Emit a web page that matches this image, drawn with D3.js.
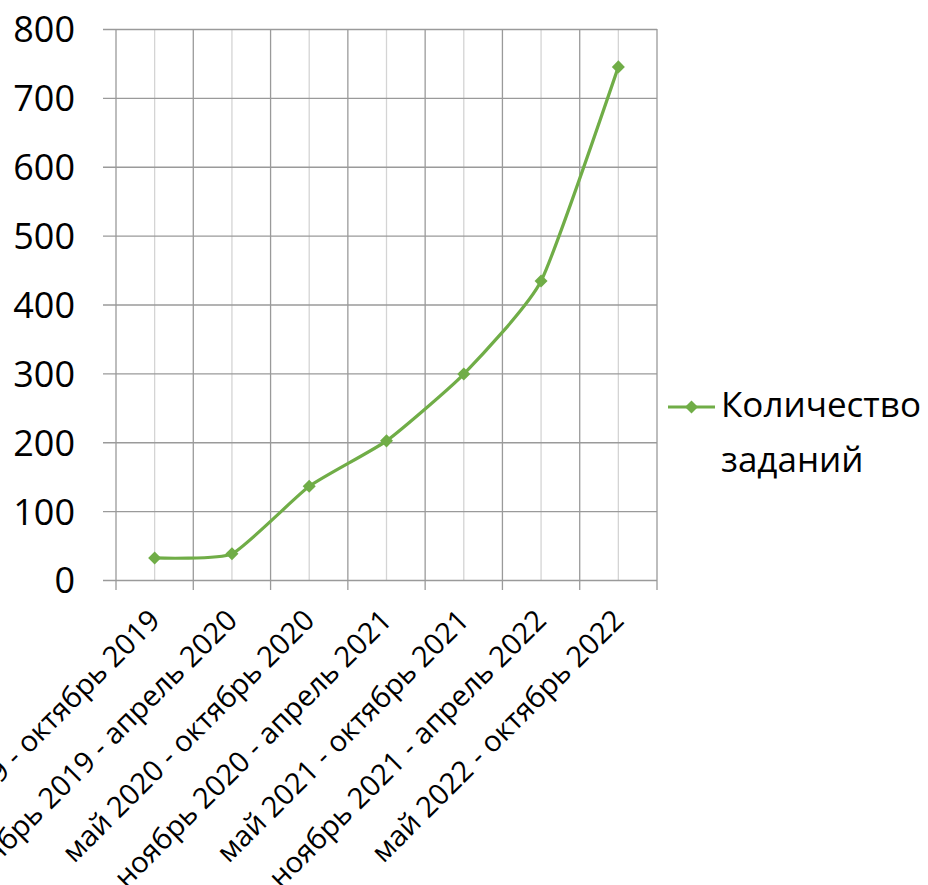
<!DOCTYPE html>
<html>
<head>
<meta charset="utf-8">
<script src="https://cdn.jsdelivr.net/npm/d3@7"></script>
<style>
  body { margin: 0; background: #fff; }
  svg text { font-family: "Open Sans", "Noto Sans", sans-serif; fill: #000; }
</style>
</head>
<body>
<div id="chart"></div>
<script>
// data
var periods = [
  "май 2019 - октябрь 2019",
  "ноябрь 2019 - апрель 2020",
  "май 2020 - октябрь 2020",
  "ноябрь 2020 - апрель 2021",
  "май 2021 - октябрь 2021",
  "ноябрь 2021 - апрель 2022",
  "май 2022 - октябрь 2022"
];
var taskCounts = [32, 38, 136, 202, 299, 434, 745];
var yTicks = [0, 100, 200, 300, 400, 500, 600, 700, 800];
var seriesName = ["Количество", "заданий"];

var width = 928, height = 885;
var margin = { top: 29, right: 271, bottom: 305, left: 116 };
var green = "#70AD47";

var svg = d3.select("#chart").append("svg")
  .attr("width", width)
  .attr("height", height);

var plotW = width - margin.left - margin.right;
var plotH = height - margin.top - margin.bottom;

var g = svg.append("g")
  .attr("transform", "translate(" + margin.left + "," + margin.top + ")");

var x = d3.scaleBand().domain(periods).range([0, plotW]);
var y = d3.scaleLinear().domain([0, 800]).range([plotH, 0]);

// light mid-category gridlines
g.selectAll(".vminor")
  .data(periods)
  .enter().append("line")
  .attr("x1", d => x(d) + x.bandwidth() / 2)
  .attr("x2", d => x(d) + x.bandwidth() / 2)
  .attr("y1", 0).attr("y2", plotH)
  .attr("stroke", "#d4d4d4").attr("stroke-width", 1.3);

// category boundary lines + ticks
var bounds = periods.map(d => x(d)).concat([plotW]);
g.selectAll(".vmajor")
  .data(bounds)
  .enter().append("line")
  .attr("x1", d => d).attr("x2", d => d)
  .attr("y1", 0).attr("y2", plotH + 10)
  .attr("stroke", "#9a9a9a").attr("stroke-width", 1.3);

// horizontal gridlines with outside ticks
var yAxis = d3.axisLeft(y).tickValues(yTicks).tickSize(-(plotW + 13)).tickPadding(28);
var ya = g.append("g").attr("transform", "translate(" + -13 + ",0)").call(yAxis);
ya.select(".domain").remove();
ya.selectAll(".tick line").attr("x1", 0).attr("x2", plotW + 13).attr("stroke", "#9a9a9a").attr("stroke-width", 1.3);
ya.selectAll(".tick text")
  .attr("x", -28)
  .attr("dy", "0.36em")
  .style("font-size", "36px")
  .style("font-family", "'Open Sans', 'Noto Sans', sans-serif");

// x labels
var xl = g.append("g");
xl.selectAll("text")
  .data(periods)
  .enter().append("text")
  .attr("text-anchor", "end")
  .attr("transform", d => "translate(" + (x(d) + x.bandwidth() / 2 + 7) + "," + (plotH + 42) + ") rotate(-45)")
  .style("font-size", "29px")
  .text(d => d);

// line
var line = d3.line()
  .x((d, i) => x(periods[i]) + x.bandwidth() / 2)
  .y(d => y(d))
  .curve(d3.curveCardinal.tension(0.5));

g.append("path")
  .datum(taskCounts)
  .attr("fill", "none")
  .attr("stroke", green)
  .attr("stroke-width", 3.2)
  .attr("d", line);

var diamond = d3.symbol().type(d3.symbolSquare).size(85);
g.selectAll(".pt")
  .data(taskCounts)
  .enter().append("path")
  .attr("d", diamond)
  .attr("fill", green)
  .attr("transform", (d, i) => "translate(" + (x(periods[i]) + x.bandwidth() / 2) + "," + y(d) + ") rotate(45)");

// legend
var lg = svg.append("g").attr("transform", "translate(668,407)");
lg.append("line").attr("x1", 0).attr("x2", 47).attr("y1", 0).attr("y2", 0)
  .attr("stroke", green).attr("stroke-width", 3.2);
lg.append("path").attr("d", diamond).attr("fill", green)
  .attr("transform", "translate(23.5,0) rotate(45)");
lg.selectAll("text")
  .data(seriesName)
  .enter().append("text")
  .attr("x", 53)
  .attr("y", (d, i) => 10 + i * 55)
  .style("font-size", "35px")
  .text(d => d);
</script>
</body>
</html>
